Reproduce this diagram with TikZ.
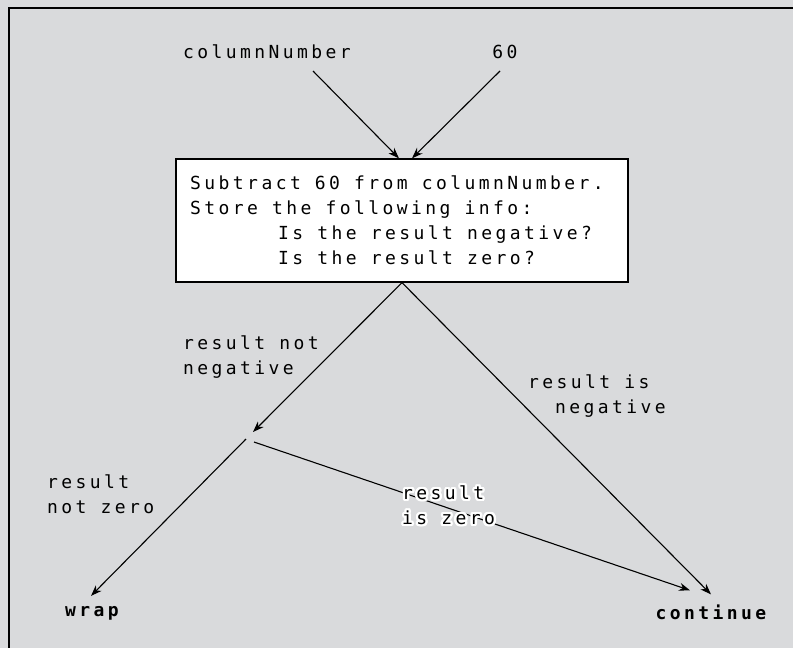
\documentclass[tikz,border=0pt]{standalone}
\usepackage{fontspec}
\usepackage{contour}
\usetikzlibrary{arrows.meta}
\newfontfamily\monofont[LetterSpace=19]{DejaVu Sans Mono}
\newcommand\diagtext{\monofont\fontsize{18}{25}\selectfont\fontdimen2\font=14.1pt\relax\fontdimen3\font=0pt\relax\fontdimen4\font=0pt\relax}
\newcommand\goaltext{\monofont\bfseries\fontsize{18}{25}\selectfont\fontdimen2\font=14.1pt\relax\fontdimen3\font=0pt\relax\fontdimen4\font=0pt\relax}
\definecolor{panel}{RGB}{217,218,220}
\contourlength{2.4pt}
\tikzset{
    lbl/.style={font=\diagtext, inner sep=0pt, align=left}, % labels
    goal/.style={font=\goaltext, inner sep=0pt}, % end points
    arr/.style={-{Stealth[length=11pt, width=8pt]}, line width=1.1pt}, % arrows
    calc box/.style={lbl, draw, fill=white, line width=1.3pt, minimum width=452pt, minimum height=123pt}
}
\begin{document}
\begin{tikzpicture}[x=1pt, y=-1pt]
    \useasboundingbox (0,0) rectangle (793,648);
    \clip (0,0) rectangle (793,648);
    \fill[panel] (0,0) rectangle (793,648);
    \draw[line width=1.5pt] (9,8) rectangle (805,660);

    \node[lbl] (colnum) at (267,52) {columnNumber};
    \node[lbl] (sixty) at (505,52) {60};
    \node[calc box] (sub) at (402,220.5) {Subtract 60 from columnNumber.\hspace*{10pt}\\Store the following info:\\
        \hspace*{88pt}Is the result negative?\\\hspace*{88pt}Is the result zero?};
    \coordinate (colnum out) at (313,71);
    \coordinate (sixty out) at (500,71);
    \coordinate (split in) at (253,432);
    \coordinate (split left) at (246,439);
    \coordinate (split right) at (254,442);
    \node[goal] (wrap) at (92,613) {wrap};
    \node[goal] (cont) at (711,612) {continue};

    \draw[arr] (colnum out) -- ([xshift=-3pt]sub.north);
    \draw[arr] (sixty out) -- ([xshift=10pt]sub.north);
    \draw[arr] (sub.south) -- (split in);
    \draw[arr] (split left) -- ([xshift=-1pt,yshift=10pt]wrap.north);
    \draw[arr] (split right) -- ([xshift=-21pt,yshift=14pt]cont.north);
    \draw[arr] (sub.south) -- ([yshift=10pt]cont.north);

    \node[lbl, anchor=west] (notneg) at (183,357.5) {result not\\negative};
    \node[lbl, anchor=west] (isneg) at (528,396) {result is\\\hspace*{27pt}negative};
    \node[lbl, anchor=west] (notzero) at (47,494) {result\\not zero};
    \node[lbl, anchor=west] (iszero) at (402,506.5) {\contour{white}{result}\\\contour{white}{is zero}};
\end{tikzpicture}
\end{document}
